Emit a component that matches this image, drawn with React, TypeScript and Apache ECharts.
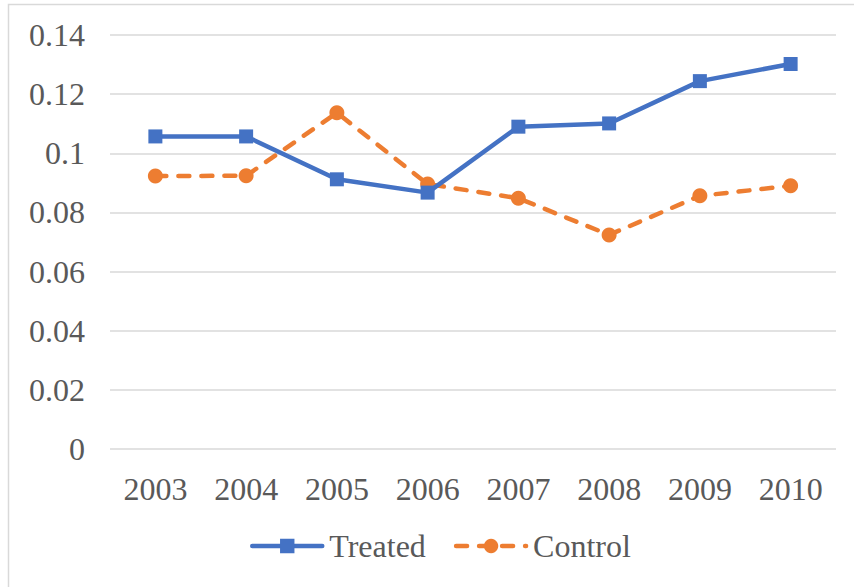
import React, { useEffect, useRef } from "react";
import * as echarts from "echarts";

// Years on the category axis
const years = ["2003", "2004", "2005", "2006", "2007", "2008", "2009", "2010"];

// Mean outcome per year for each group
const treated = [0.1057, 0.1057, 0.0912, 0.0867, 0.109, 0.1101, 0.1244, 0.1302];
const control = [0.0923, 0.0924, 0.1137, 0.0896, 0.0848, 0.0724, 0.0856, 0.089];

// Value axis range and step
const yMin = 0;
const yMax = 0.14;
const yStep = 0.02;

const BLUE = "#4472C4";
const ORANGE = "#ED7D31";
const TEXT = "#595959";
const GRID = "#D9D9D9";
const FONT = "'Liberation Serif', 'Times New Roman', serif";

export default function App() {
  const ref = useRef<HTMLDivElement>(null);

  useEffect(() => {
    if (!ref.current) return;
    const chart = echarts.init(ref.current, undefined, { renderer: "svg" });
    chart.setOption({
      animation: false,
      backgroundColor: "#ffffff",
      textStyle: { fontFamily: FONT },
      graphic: [
        {
          type: "rect",
          shape: { x: 8.5, y: 4.5, width: 900, height: 700 },
          style: { fill: "none", stroke: GRID, lineWidth: 1.5 },
          silent: true,
        },
      ],
      grid: { left: 110, right: 18, top: 35, bottom: 138, containLabel: false },
      xAxis: {
        type: "category",
        data: years,
        boundaryGap: true,
        axisLine: { show: false },
        axisTick: { show: false },
        axisLabel: {
          color: TEXT,
          fontSize: 32,
          fontFamily: FONT,
          margin: 24,
        },
      },
      yAxis: {
        type: "value",
        min: yMin,
        max: yMax,
        interval: yStep,
        axisLine: { show: false },
        axisTick: { show: false },
        axisLabel: {
          color: TEXT,
          fontSize: 32,
          fontFamily: FONT,
          margin: 25,
        },
        splitLine: { lineStyle: { color: GRID, width: 1.5 } },
      },
      legend: {
        bottom: 20,
        left: 245,
        itemWidth: 70,
        itemHeight: 18,
        itemGap: 28,
        textStyle: { color: TEXT, fontSize: 32, fontFamily: FONT, padding: [0, 0, 0, 2] },
        lineStyle: { width: 4.5 },
        data: ["Treated", "Control"],
      },
      series: [
        {
          name: "Treated",
          type: "line",
          data: treated,
          symbol: "rect",
          symbolSize: 14,
          itemStyle: { color: BLUE },
          lineStyle: { color: BLUE, width: 4.5, cap: "round", join: "round" },
          z: 3,
        },
        {
          name: "Control",
          type: "line",
          data: control,
          symbol: "circle",
          symbolSize: 15,
          itemStyle: { color: ORANGE },
          lineStyle: { color: ORANGE, width: 4.5, type: [11, 12], cap: "round", join: "round" },
          z: 2,
        },
      ],
    });
    return () => chart.dispose();
  }, []);

  return (
    <div
      ref={ref}
      style={{ position: "absolute", left: 0, top: 0, width: 854, height: 587 }}
    />
  );
}
